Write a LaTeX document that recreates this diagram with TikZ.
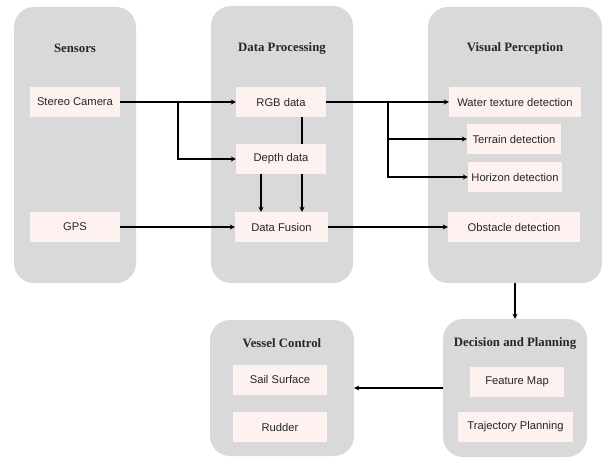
\documentclass[tikz,border=0pt]{standalone}
\usepackage{fontspec}
\setmainfont{Liberation Serif}
\setsansfont{Liberation Sans}
\usetikzlibrary{arrows.meta}
\definecolor{panelgray}{HTML}{D9D9D9}
\definecolor{boxpink}{HTML}{FDF2F0}
\tikzset{
  panel/.style={fill=panelgray, draw=none, rounded corners=20pt, inner sep=0pt},
  ptitle/.style={font=\fontsize{12.8}{14}\selectfont\bfseries, inner sep=0pt, text=black!85},
  box/.style={fill=boxpink, draw=none, inner sep=0pt, minimum height=30pt,
    font=\sffamily\fontsize{11.2}{12}\selectfont, text=black!85},
  conn/.style={line width=1.5pt, black},
  arr/.style={conn, -{Stealth[length=5pt,width=5pt]}}
}
\begin{document}
\begin{tikzpicture}[x=1pt,y=-1pt]
\useasboundingbox (0,0) rectangle (609,457);
% panels
\node[panel, minimum width=122pt, minimum height=276pt] (sens) at (75,145) {};
\node[panel, minimum width=142pt, minimum height=277pt] (proc) at (282,144.5) {};
\node[panel, minimum width=174pt, minimum height=276pt] (vp) at (515,145) {};
\node[panel, minimum width=144pt, minimum height=136pt] (vc) at (282,388) {};
\node[panel, minimum width=144pt, minimum height=138pt] (dec) at (515,388) {};
% titles
\node[ptitle] (tsens) at (75,48) {Sensors};
\node[ptitle] (tproc) at (282,48) {Data Processing};
\node[ptitle] (tvp) at (515,48) {Visual Perception};
\node[ptitle] (tvc) at (282,343) {Vessel Control};
\node[ptitle] (tdec) at (515,343) {Decision and Planning};
% boxes
\node[box, minimum width=90pt] (stereo) at (75,102) {Stereo Camera};
\node[box, minimum width=90pt] (gps) at (75,227) {GPS};
\node[box, minimum width=90pt] (rgb) at (281,102) {RGB data};
\node[box, minimum width=90pt] (depth) at (281,159) {Depth data};
\node[box, minimum width=93pt] (fusion) at (281.5,227) {Data Fusion};
\node[box, minimum width=132pt] (water) at (515,102) {Water texture detection};
\node[box, minimum width=94pt] (terrain) at (514,139) {Terrain detection};
\node[box, minimum width=94pt] (horizon) at (515,177) {Horizon detection};
\node[box, minimum width=132pt] (obstacle) at (514,227) {Obstacle detection};
\node[box, minimum width=94pt] (sail) at (280,379.5) {Sail Surface};
\node[box, minimum width=94pt] (rudder) at (280,427) {Rudder};
\node[box, minimum width=94pt] (feature) at (517,382) {Feature Map};
\node[box, minimum width=115pt] (traj) at (515.5,427) {Trajectory Planning};
% connectors
\coordinate (b1) at (178,102);
\draw[arr] (stereo.east) -- (rgb.west);
\draw[arr] (b1) |- (depth.west);
\draw[arr] (gps.east) -- (fusion.west);
\draw[conn] ([xshift=21pt]rgb.south) -- ([xshift=21pt]depth.north);
\draw[arr] ([xshift=-20pt]depth.south) -- ([xshift=-20.5pt]fusion.north);
\draw[arr] ([xshift=21pt]depth.south) -- ([xshift=20.5pt]fusion.north);
\coordinate (b2) at (388,102);
\draw[arr] (rgb.east) -- (water.west);
\draw[arr] (b2) |- (horizon.west);
\draw[arr] (b2 |- terrain.west) -- (terrain.west);
\draw[arr] (fusion.east) -- (obstacle.west);
\draw[arr] (vp.south) -- (dec.north);
\draw[arr] (dec.west) -- (dec.west -| vc.east);
\end{tikzpicture}
\end{document}
